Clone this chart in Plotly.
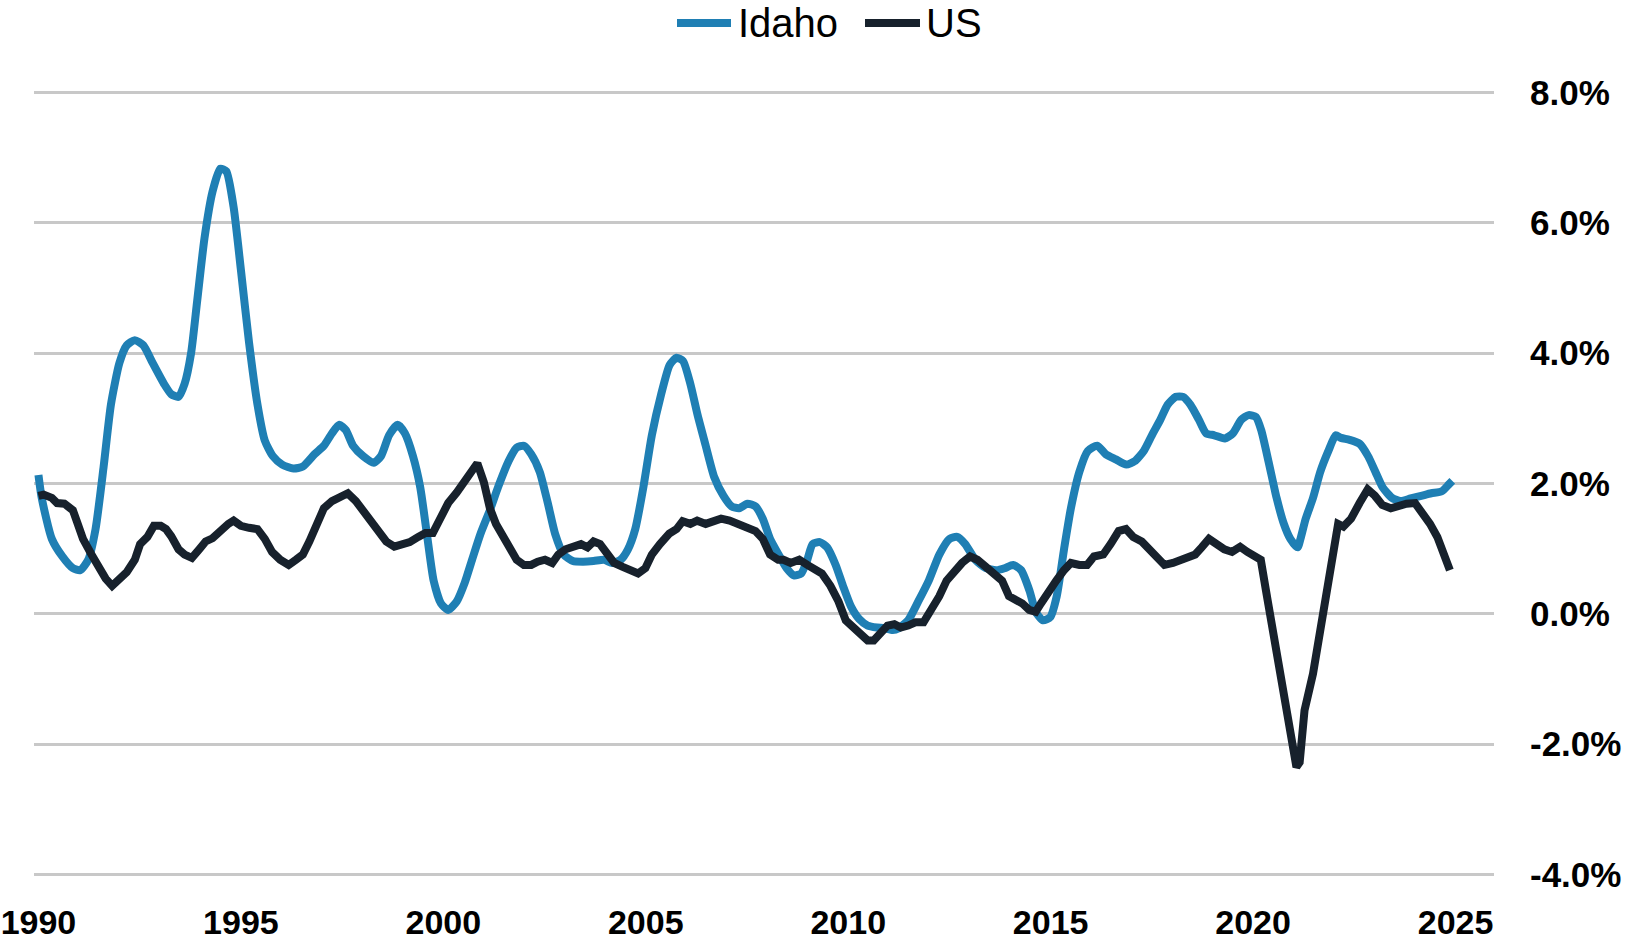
import plotly.graph_objects as go

# ---- data (decimal years, % change) ----
idaho_x = [1990.0, 1990.08, 1990.33, 1990.59, 1990.85, 1991.03, 1991.23, 1991.41, 1991.61, 1991.79, 1992.0,
           1992.18, 1992.38, 1992.59, 1992.82, 1993.1, 1993.28, 1993.46, 1993.61, 1993.77, 1993.92, 1994.1,
           1994.3, 1994.49, 1994.64, 1994.82, 1995.0, 1995.2, 1995.41, 1995.59, 1995.79, 1996.02, 1996.3,
           1996.53, 1996.82, 1997.05, 1997.25, 1997.43, 1997.59, 1997.77, 1998.02, 1998.28, 1998.46,
           1998.66, 1998.87, 1999.05, 1999.25, 1999.43, 1999.61, 1999.76, 1999.94, 2000.12, 2000.33,
           2000.53, 2000.71, 2000.92, 2001.15, 2001.35, 2001.61, 2001.81, 2001.99, 2002.17, 2002.38,
           2002.58, 2002.76, 2002.97, 2003.2, 2003.45, 2003.71, 2003.97, 2004.17, 2004.38, 2004.56,
           2004.74, 2004.94, 2005.15, 2005.38, 2005.59, 2005.76, 2005.92, 2006.1, 2006.28, 2006.48,
           2006.69, 2006.92, 2007.12, 2007.3, 2007.51, 2007.71, 2007.89, 2008.07, 2008.28, 2008.48,
           2008.66, 2008.84, 2008.99, 2009.12, 2009.3, 2009.48, 2009.69, 2009.87, 2010.07, 2010.27,
           2010.48, 2010.71, 2010.89, 2011.1, 2011.25, 2011.48, 2011.73, 2011.99, 2012.25, 2012.5,
           2012.69, 2012.89, 2013.14, 2013.4, 2013.66, 2013.86, 2014.07, 2014.27, 2014.48, 2014.63,
           2014.81, 2014.99, 2015.15, 2015.33, 2015.5, 2015.71, 2015.92, 2016.15, 2016.36, 2016.61,
           2016.87, 2017.07, 2017.3, 2017.5, 2017.71, 2017.89, 2018.09, 2018.27, 2018.45, 2018.66,
           2018.84, 2019.04, 2019.3, 2019.5, 2019.71, 2019.89, 2020.07, 2020.2, 2020.38, 2020.58,
           2020.76, 2020.92, 2021.1, 2021.17, 2021.3, 2021.48, 2021.66, 2021.86, 2022.04, 2022.17,
           2022.38, 2022.63, 2022.84, 2023.02, 2023.2, 2023.43, 2023.64, 2023.89, 2024.15, 2024.4,
           2024.66, 2024.84, 2024.92]
idaho_y = [2.13, 1.78, 1.15, 0.88, 0.70, 0.67, 0.83, 1.30, 2.26, 3.21, 3.85,
           4.12, 4.20, 4.12, 3.85, 3.53, 3.37, 3.33, 3.53, 4.00, 4.80, 5.76,
           6.48, 6.83, 6.79, 6.24, 5.28, 4.17, 3.21, 2.66, 2.42, 2.29, 2.23,
           2.26, 2.45, 2.58, 2.77, 2.90, 2.82, 2.58, 2.42, 2.32, 2.42,
           2.74, 2.90, 2.77, 2.42, 1.94, 1.15, 0.51, 0.16, 0.06, 0.19,
           0.48, 0.83, 1.23, 1.59, 1.94, 2.34, 2.55, 2.58, 2.45, 2.18,
           1.70, 1.23, 0.91, 0.81, 0.80, 0.81, 0.83, 0.78, 0.83, 0.99,
           1.30, 1.94, 2.74, 3.37, 3.82, 3.93, 3.88, 3.53, 3.05, 2.58,
           2.10, 1.81, 1.65, 1.62, 1.69, 1.65, 1.46, 1.15, 0.91, 0.70,
           0.59, 0.62, 0.83, 1.07, 1.10, 1.02, 0.75, 0.43, 0.11, -0.08,
           -0.18, -0.21, -0.22, -0.25, -0.22, -0.10, 0.19, 0.51, 0.91, 1.15,
           1.18, 1.07, 0.83, 0.70, 0.67, 0.70, 0.75, 0.67, 0.35, 0.03,
           -0.10, -0.05, 0.27, 0.99, 1.62, 2.18, 2.50, 2.58, 2.45, 2.37,
           2.29, 2.34, 2.50, 2.74, 2.98, 3.21, 3.33, 3.33, 3.21, 2.98,
           2.77, 2.74, 2.69, 2.77, 2.98, 3.05, 3.02, 2.82, 2.34, 1.78,
           1.38, 1.15, 1.02, 1.15, 1.46, 1.78, 2.18, 2.50, 2.74, 2.70,
           2.67, 2.61, 2.42, 2.18, 1.94, 1.78, 1.73, 1.77, 1.81, 1.85,
           1.88, 1.99, 2.04]

us_x = [1990.0, 1990.13, 1990.33, 1990.46, 1990.64, 1990.85, 1990.97, 1991.1, 1991.31, 1991.49,
        1991.66, 1991.82, 1992.0, 1992.18, 1992.38, 1992.51, 1992.69, 1992.85, 1993.02, 1993.15,
        1993.28, 1993.46, 1993.61, 1993.79, 1993.97, 1994.13, 1994.3, 1994.48, 1994.69, 1994.82,
        1995.0, 1995.2, 1995.41, 1995.59, 1995.77, 1995.97, 1996.18, 1996.36, 1996.53, 1996.69,
        1996.87, 1997.05, 1997.25, 1997.46, 1997.64, 1997.84, 1998.02, 1998.23, 1998.41, 1998.59,
        1998.79, 1998.97, 1999.17, 1999.38, 1999.56, 1999.74, 1999.94, 2000.12, 2000.33, 2000.51,
        2000.64, 2000.84, 2001.0, 2001.15, 2001.3, 2001.48, 2001.66, 2001.81, 2001.99, 2002.17,
        2002.33, 2002.51, 2002.69, 2002.84, 2003.02, 2003.2, 2003.4, 2003.56, 2003.71, 2003.87,
        2004.04, 2004.22, 2004.43, 2004.61, 2004.81, 2004.99, 2005.15, 2005.35, 2005.58, 2005.76,
        2005.91, 2006.1, 2006.27, 2006.48, 2006.68, 2006.86, 2007.07, 2007.3, 2007.5, 2007.71,
        2007.89, 2008.07, 2008.27, 2008.4, 2008.58, 2008.79, 2008.99, 2009.17, 2009.35, 2009.56,
        2009.76, 2009.94, 2010.12, 2010.32, 2010.48, 2010.63, 2010.78, 2010.97, 2011.14, 2011.3,
        2011.48, 2011.66, 2011.86, 2012.04, 2012.25, 2012.43, 2012.63, 2012.81, 2013.01, 2013.19,
        2013.4, 2013.58, 2013.8, 2013.97, 2014.12, 2014.3, 2014.47, 2014.63, 2014.76, 2014.94,
        2015.14, 2015.33, 2015.5, 2015.71, 2015.9, 2016.07, 2016.3, 2016.48, 2016.68, 2016.86,
        2017.04, 2017.25, 2017.44, 2017.63, 2017.81, 2018.02, 2018.22, 2018.4, 2018.57, 2018.73,
        2018.91, 2019.1, 2019.29, 2019.48, 2019.68, 2019.86, 2020.06, 2020.19, 2020.32, 2020.53,
        2020.7, 2020.88, 2021.0, 2021.07, 2021.15, 2021.27, 2021.48, 2021.66, 2021.84, 2022.0,
        2022.1, 2022.23, 2022.42, 2022.63, 2022.83, 2023.01, 2023.19, 2023.4, 2023.6, 2023.79,
        2024.0, 2024.2, 2024.37, 2024.55, 2024.68, 2024.86]
us_y = [1.81, 1.83, 1.78, 1.70, 1.69, 1.59, 1.38, 1.15, 0.91, 0.70,
        0.54, 0.43, 0.54, 0.64, 0.83, 1.07, 1.18, 1.35, 1.35, 1.30,
        1.19, 0.99, 0.91, 0.86, 0.99, 1.11, 1.16, 1.27, 1.38, 1.43,
        1.35, 1.32, 1.30, 1.15, 0.95, 0.83, 0.75, 0.83, 0.91, 1.11,
        1.38, 1.62, 1.73, 1.81, 1.85, 1.73, 1.58, 1.38, 1.23, 1.11,
        1.03, 1.05, 1.10, 1.18, 1.24, 1.24, 1.46, 1.70, 1.86, 2.02,
        2.18, 2.31, 2.02, 1.62, 1.38, 1.18, 1.02, 0.83, 0.75, 0.75,
        0.80, 0.83, 0.78, 0.91, 0.99, 1.03, 1.07, 1.02, 1.11, 1.07,
        0.94, 0.78, 0.72, 0.67, 0.62, 0.70, 0.91, 1.07, 1.23, 1.30,
        1.42, 1.38, 1.43, 1.38, 1.43, 1.46, 1.43, 1.38, 1.34, 1.27,
        1.15, 0.91, 0.83, 0.83, 0.78, 0.83, 0.75, 0.70, 0.62, 0.43,
        0.19, -0.10, -0.21, -0.29, -0.41, -0.41, -0.29, -0.18, -0.16, -0.21,
        -0.18, -0.13, -0.13, 0.03, 0.27, 0.51, 0.67, 0.78, 0.88, 0.83,
        0.72, 0.64, 0.51, 0.27, 0.22, 0.16, 0.06, 0.03, 0.16, 0.35,
        0.51, 0.67, 0.78, 0.75, 0.75, 0.88, 0.91, 1.07, 1.27, 1.30,
        1.18, 1.11, 0.99, 0.83, 0.75, 0.78, 0.83, 0.88, 0.91, 1.02,
        1.15, 1.07, 0.99, 0.95, 1.03, 0.95, 0.88, 0.83, 0.35, -0.45,
        -1.08, -1.72, -2.20, -2.35, -2.28, -1.48, -0.92, -0.29, 0.35, 1.07,
        1.38, 1.34, 1.46, 1.70, 1.91, 1.81, 1.67, 1.62, 1.67, 1.69,
        1.70, 1.54, 1.38, 1.18, 0.99, 0.67]

y_ticks = [-4, -2, 0, 2, 4, 6, 8]
y_tick_labels = ["-4.0%", "-2.0%", "0.0%", "2.0%", "4.0%", "6.0%", "8.0%"]
x_ticks = [1990, 1995, 2000, 2005, 2010, 2015, 2020, 2025]
x_tick_labels = ["1990", "1995", "2000", "2005", "2010", "2015", "2020", "2025"]
series_names = ["Idaho", "US"]

IDAHO_COLOR = "#1f7fb4"
US_COLOR = "#17212c"
FONT = "Liberation Sans, Arial, sans-serif"

W, H = 1627, 944
ML, MR, MT, MB = 34, 133, 86, 63
PW, PH = W - ML - MR, H - MT - MB


def px_to_paper_x(px):
    return (px - ML) / PW


def px_to_paper_y(py):
    return (H - MB - py) / PH


fig = go.Figure()
fig.add_trace(go.Scatter(x=idaho_x, y=idaho_y, name=series_names[0], mode="lines",
                         line=dict(color=IDAHO_COLOR, width=8, shape="spline", smoothing=0.6),
                         showlegend=False))
fig.add_trace(go.Scatter(x=us_x, y=us_y, name=series_names[1], mode="lines",
                         line=dict(color=US_COLOR, width=8), showlegend=False))

# custom legend (long line samples like the reference)
legend_y = px_to_paper_y(23)
legend_items = [(series_names[0], IDAHO_COLOR, 677, 731, 737),
                (series_names[1], US_COLOR, 865, 920, 925)]
for name, color, x0, x1, tx in legend_items:
    fig.add_shape(type="line", xref="paper", yref="paper",
                  x0=px_to_paper_x(x0), x1=px_to_paper_x(x1), y0=legend_y, y1=legend_y,
                  line=dict(color=color, width=8))
    fig.add_annotation(xref="paper", yref="paper", x=px_to_paper_x(tx), y=legend_y,
                       xanchor="left", yanchor="middle", text=name, showarrow=False,
                       borderpad=0,
                       font=dict(size=40, family=FONT, color="black"))

fig.update_layout(
    width=W, height=H,
    margin=dict(l=ML, r=MR, t=MT, b=MB, autoexpand=False),
    plot_bgcolor="white", paper_bgcolor="white",
    font=dict(family=FONT, color="black"),
    showlegend=False,
    xaxis=dict(range=[1989.89, 2025.95], tickvals=x_ticks, ticktext=x_tick_labels,
               showgrid=False, zeroline=False, showline=False, ticks="", automargin=False,
               tickfont=dict(size=34, family=FONT, weight="bold"),
               ticklabelstandoff=18),
    yaxis=dict(range=[-4.1, 8.1], tickvals=y_ticks, ticktext=y_tick_labels, side="right",
               showgrid=True, gridcolor="#c8c8c8", gridwidth=2.5, zeroline=False,
               showline=False, ticks="", automargin=False,
               tickfont=dict(size=35, family=FONT, weight="bold"),
               ticklabelstandoff=35),
)

fig.write_html("out.html", config={"displayModeBar": False},
               post_script="document.body.style.margin='0';document.body.style.overflow='hidden';")
